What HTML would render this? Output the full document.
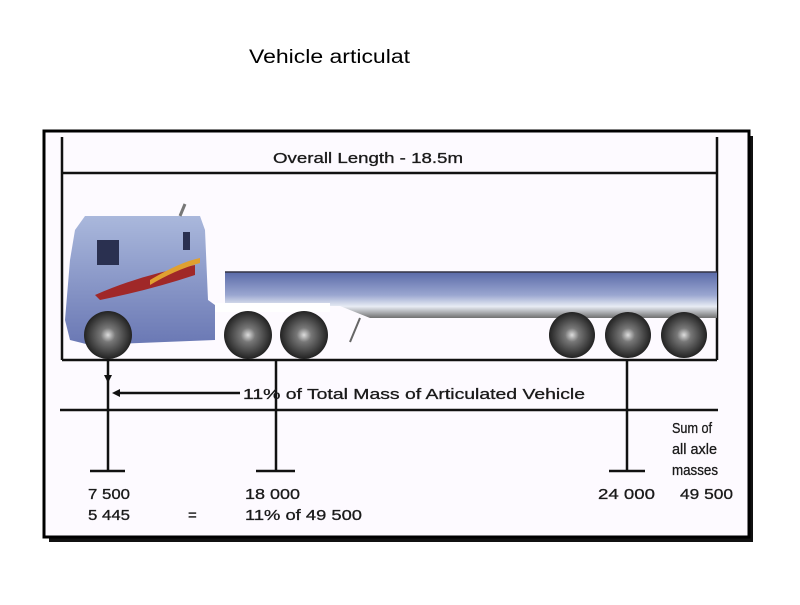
<!DOCTYPE html>
<html><head><style>
body{margin:0;background:#fff;width:800px;height:600px;overflow:hidden}
</style></head><body>
<svg width="800" height="600" xmlns="http://www.w3.org/2000/svg">
<defs>
<linearGradient id="tr" x1="0" y1="0" x2="0" y2="1">
<stop offset="0" stop-color="#5a6aa8"/><stop offset="0.5" stop-color="#9aa6d0"/><stop offset="0.75" stop-color="#e8ecf4"/><stop offset="1" stop-color="#707070"/></linearGradient>
<linearGradient id="cab" x1="0" y1="0" x2="0" y2="1">
<stop offset="0" stop-color="#aab8dc"/><stop offset="1" stop-color="#6a78b4"/></linearGradient>
<radialGradient id="wh"><stop offset="0" stop-color="#ddd"/><stop offset="0.3" stop-color="#777"/><stop offset="1" stop-color="#222"/></radialGradient>
</defs>
<text x="249" y="63" font-family="Liberation Sans,sans-serif" font-size="19" textLength="161" lengthAdjust="spacingAndGlyphs">Vehicle articulat</text>
<rect x="49" y="136" width="704" height="406" fill="#111"/>
<rect x="44" y="131" width="705" height="406" fill="#fdfaff" stroke="#000" stroke-width="3"/>
<g stroke="#111" stroke-width="2.5" fill="none">
<line x1="62" y1="137" x2="62" y2="360"/>
<line x1="717" y1="137" x2="717" y2="360"/>
<line x1="62" y1="173" x2="717" y2="173"/>
<line x1="62" y1="360" x2="717" y2="360"/>
<line x1="60" y1="410" x2="718" y2="410"/>
<line x1="108" y1="360" x2="108" y2="470"/>
<line x1="276" y1="360" x2="276" y2="470"/>
<line x1="627" y1="360" x2="627" y2="470"/>
<line x1="90" y1="471" x2="125" y2="471"/>
<line x1="256" y1="471" x2="295" y2="471"/>
<line x1="609" y1="471" x2="645" y2="471"/>
<line x1="118" y1="393" x2="240" y2="393"/>
</g>
<polygon points="104,375 112,375 108,383" fill="#111"/>
<polygon points="112,393 120,389 120,397" fill="#111"/>
<g font-family="Liberation Sans,sans-serif" font-size="15" fill="#1a1a1a" stroke="#1a1a1a" stroke-width="0.3" lengthAdjust="spacingAndGlyphs">
<text x="273" y="163" textLength="190" lengthAdjust="spacingAndGlyphs">Overall Length - 18.5m</text>
<text x="243" y="399" textLength="342" lengthAdjust="spacingAndGlyphs">11% of Total Mass of Articulated Vehicle</text>
<text x="672" y="433" textLength="40" lengthAdjust="spacingAndGlyphs">Sum of</text>
<text x="672" y="454" textLength="45" lengthAdjust="spacingAndGlyphs">all axle</text>
<text x="672" y="475" textLength="46" lengthAdjust="spacingAndGlyphs">masses</text>
<text x="88" y="499" textLength="42" lengthAdjust="spacingAndGlyphs">7 500</text>
<text x="88" y="520" textLength="42" lengthAdjust="spacingAndGlyphs">5 445</text>
<text x="188" y="520">=</text>
<text x="245" y="499" textLength="55" lengthAdjust="spacingAndGlyphs">18 000</text>
<text x="245" y="520" textLength="117" lengthAdjust="spacingAndGlyphs">11% of 49 500</text>
<text x="598" y="499" textLength="57" lengthAdjust="spacingAndGlyphs">24 000</text>
<text x="680" y="499" textLength="53" lengthAdjust="spacingAndGlyphs">49 500</text>
</g>
<!-- trailer -->
<path d="M225,272 L717,272 L717,318 L370,318 L340,306 L225,306 Z" fill="url(#tr)"/>
<line x1="225" y1="272" x2="717" y2="272" stroke="#334" stroke-width="1.5"/>
<rect x="190" y="303" width="140" height="9" fill="#fff"/>
<line x1="360" y1="318" x2="350" y2="342" stroke="#666" stroke-width="2"/>
<!-- cab -->
<path d="M75,230 L85,216 L200,216 L205,230 L208,300 L215,305 L215,340 L90,345 L70,340 L65,320 L70,260 Z" fill="url(#cab)"/>
<rect x="97" y="240" width="22" height="25" fill="#2a3050"/>
<rect x="183" y="232" width="7" height="18" fill="#2a3050"/>
<path d="M95,295 Q140,275 195,265 L195,275 Q150,290 100,300Z" fill="#a02828"/>
<path d="M150,280 Q180,262 200,258 L200,263 Q175,270 150,285Z" fill="#e0a030"/>
<line x1="180" y1="216" x2="185" y2="204" stroke="#777" stroke-width="3"/>
<!-- wheels -->
<g fill="url(#wh)">
<circle cx="108" cy="335" r="24"/><circle cx="248" cy="335" r="24"/><circle cx="304" cy="335" r="24"/>
<circle cx="572" cy="335" r="23"/><circle cx="628" cy="335" r="23"/><circle cx="684" cy="335" r="23"/>
</g>
</svg>
</body></html>
